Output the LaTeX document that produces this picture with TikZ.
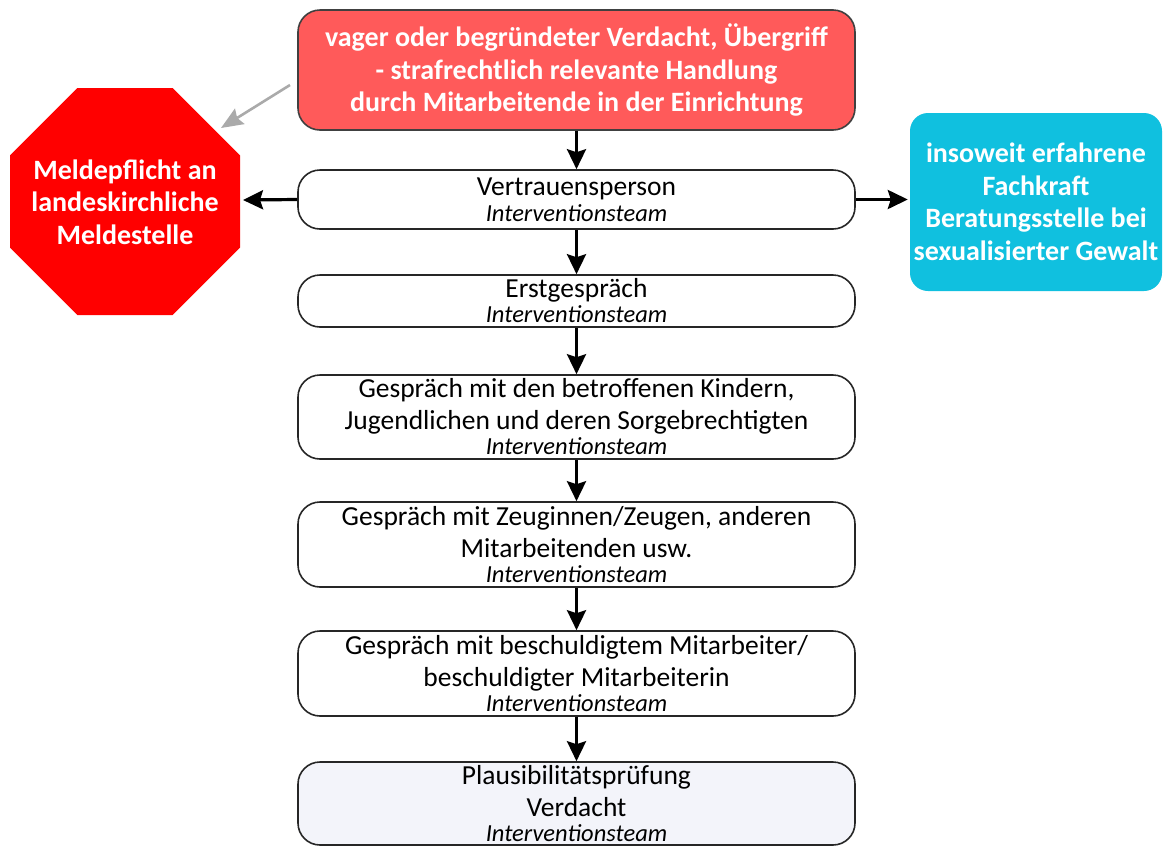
\documentclass[tikz,border=0pt]{standalone}
\usepackage{fontspec}
\setmainfont{Carlito}
\usetikzlibrary{arrows.meta}
\definecolor{topred}{HTML}{FF5A5A}
\definecolor{stopred}{HTML}{FF0000}
\definecolor{cyanbox}{HTML}{10C0DF}
\definecolor{paleblue}{HTML}{F3F4FA}
\definecolor{grayarrow}{HTML}{AAAAAA}
\begin{document}
\begin{tikzpicture}[x=1pt,y=-1pt,
  box/.style={draw=black!85, line width=1.6pt, rounded corners=22pt, minimum width=557pt,
    align=center, font=\fontsize{27.5}{32}\selectfont, inner sep=0pt},
  flow/.style={-{Stealth[length=20pt,width=19pt,inset=3pt]}, line width=3.2pt},
  whitebold/.style={text=white, font=\bfseries\fontsize{28}{32.5}\selectfont, align=center}]
\useasboundingbox (0,0) rectangle (1168,847);
\newcommand{\itl}{\itshape\fontsize{24.5}{26}\selectfont Interventionsteam}
% top box
\node[box, fill=topred, draw=black!75, minimum height=120pt, whitebold] (top) at (576.5,70)
  {vager oder begründeter Verdacht, Übergriff\\- strafrechtlich relevante Handlung\\durch Mitarbeitende in der Einrichtung};
\node[box, minimum height=59pt] (vp) at (576.5,199.5) {Vertrauensperson\\[-6pt]{\itl}};
\node[box, minimum height=52pt] (eg) at (576.5,301) {Erstgespräch\\[-7pt]{\itl}};
\node[box, minimum height=84pt] (kind) at (576.5,417) {Gespräch mit den betroffenen Kindern,\\Jugendlichen und deren Sorgebrechtigten\\[-7pt]{\itl}};
\node[box, minimum height=85pt] (zeug) at (576.5,544.5) {Gespräch mit Zeuginnen/Zeugen, anderen\\Mitarbeitenden usw.\\[-7pt]{\itl}};
\node[box, minimum height=85pt] (besch) at (576.5,673.5) {Gespräch mit beschuldigtem Mitarbeiter/\\beschuldigter Mitarbeiterin\\[-7pt]{\itl}};
\node[box, minimum height=83pt, fill=paleblue] (plaus) at (576.5,803.5) {Plausibilitätsprüfung\\Verdacht\\[-7pt]{\itl}};
% octagon
\path[fill=stopred] (77.4,88) -- (172.6,88) -- (240,155.4) -- (240,247.6) -- (172.6,315) -- (77.4,315) -- (10,247.6) -- (10,155.4) -- cycle;
\node[whitebold] (meld) at (125,202) {Meldepflicht an\\landeskirchliche\\Meldestelle};
\coordinate (meldR) at (243,200);
% cyan box
\node[fill=cyanbox, rounded corners=18pt, minimum width=252pt, minimum height=178pt, inner sep=0pt, whitebold] (fach) at (1036,202)
  {insoweit erfahrene\\Fachkraft\\Beratungsstelle bei\\sexualisierter Gewalt};
% arrows
\coordinate (gs) at (290,85);
\coordinate (ge) at (221,128);
\draw[-{Stealth[length=22pt,width=18pt,inset=3pt]}, line width=2.6pt, grayarrow] (gs) -- (ge);
\draw[flow] (top) -- (vp);
\draw[flow] (vp) -- (eg);
\draw[flow] (eg) -- (kind);
\draw[flow] (kind) -- (zeug);
\draw[flow] (zeug) -- (besch);
\draw[flow] (besch) -- (plaus);
\draw[flow] (vp.west) -- (meldR);
\draw[flow] (vp.east) -- ([xshift=-2pt]vp.east -| fach.west);
\end{tikzpicture}
\end{document}
